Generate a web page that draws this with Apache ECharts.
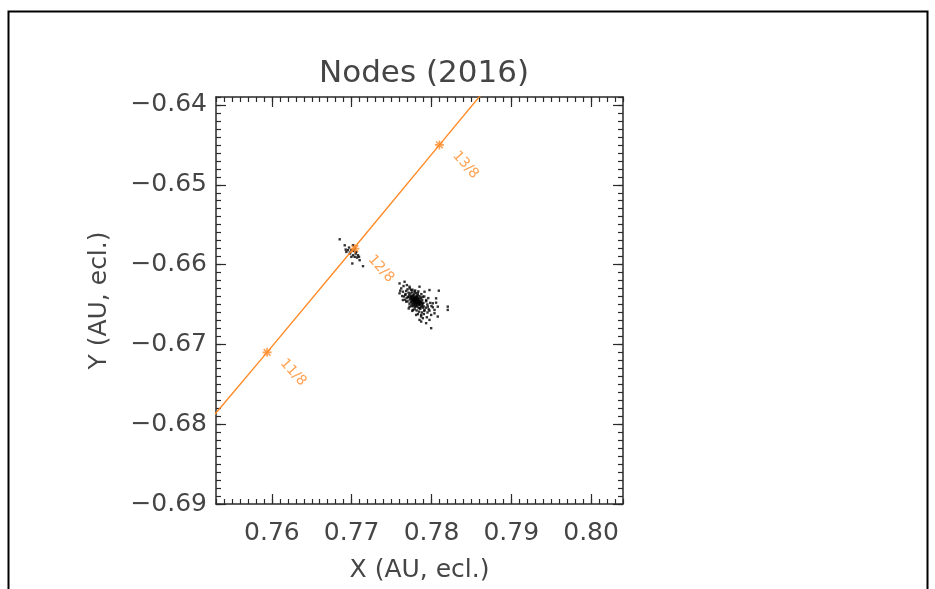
<!DOCTYPE html>
<html>
<head>
<meta charset="utf-8">
<script src="https://cdn.jsdelivr.net/npm/echarts@6/dist/echarts.min.js"></script>
<style>
html,body{margin:0;padding:0;background:#fff;}
#chart{width:935px;height:589px;}
</style>
</head>
<body>
<div id="chart"></div>
<script>
// ---- data ----
const xTickValues = [0.76, 0.77, 0.78, 0.79, 0.80];
const yTickValues = [-0.69, -0.68, -0.67, -0.66, -0.65, -0.64];

// orbit positions (X, Y) at successive days
const orbitDays = ['10/8', '11/8', '12/8', '13/8', '14/8'];
const orbitX = [0.7486, 0.7594, 0.7704, 0.7810, 0.7916];
const orbitY = [-0.6838, -0.6710, -0.6578, -0.6450, -0.6322];

// marked dates
const markDays = ['11/8', '12/8', '13/8'];
const markX = [0.7594, 0.7704, 0.7810];
const markY = [-0.6710, -0.6580, -0.6450];

// node cloud near the 12/8 point
const nodesSmall = [
  [0.76850,-0.65683],[0.76913,-0.65758],[0.77017,-0.65758],[0.76954,-0.65820],
  [0.76933,-0.65841],[0.76975,-0.65862],[0.76996,-0.65820],[0.77038,-0.65799],
  [0.77058,-0.65841],[0.77017,-0.65883],[0.77079,-0.65883],[0.77038,-0.65903],
  [0.77100,-0.65945],[0.77008,-0.65986],[0.77142,-0.66020],[0.76983,-0.65849],
  [0.77050,-0.65862],[0.77067,-0.65912],[0.77092,-0.65903],[0.76996,-0.65903],
  [0.76967,-0.65787],[0.77025,-0.65829],[0.76925,-0.65812]
];

// main node cloud
const nodesMain = [
  [0.77600,-0.66236],[0.77663,-0.66215],[0.77692,-0.66257],[0.77621,-0.66298],
  [0.77600,-0.66360],[0.77642,-0.66340],[0.77725,-0.66277],[0.77746,-0.66319],
  [0.77850,-0.66277],[0.77913,-0.66340],[0.77975,-0.66319],[0.78092,-0.66327],
  [0.78058,-0.66423],[0.78017,-0.66485],[0.78079,-0.66527],[0.78204,-0.66527],
  [0.78204,-0.66568],[0.78038,-0.66610],[0.78079,-0.66651],[0.77975,-0.66693],
  [0.77892,-0.66672],[0.77850,-0.66693],[0.77996,-0.66797],[0.77933,-0.66734],
  [0.77767,-0.66568],[0.77725,-0.66527],[0.77683,-0.66464],[0.77642,-0.66444],
  [0.77704,-0.66402],[0.77788,-0.66340],[0.77829,-0.66360],[0.77892,-0.66402],
  [0.77933,-0.66444],[0.77954,-0.66527],[0.77913,-0.66568],[0.77850,-0.66548],
  [0.77808,-0.66631],[0.77996,-0.66631],[0.78038,-0.66568],[0.77633,-0.66394],
  [0.77675,-0.66369],[0.77608,-0.66327],[0.77650,-0.66269],[0.77871,-0.66631],
  [0.77942,-0.66660],[0.78017,-0.66535],[0.77975,-0.66577],[0.77842,-0.66477],
  [0.77871,-0.66714],[0.78058,-0.66477],
  [0.77712,-0.66352],[0.77735,-0.66361],[0.77758,-0.66348],[0.77781,-0.66372],
  [0.77804,-0.66358],[0.77826,-0.66383],[0.77849,-0.66395],[0.77871,-0.66412],
  [0.77722,-0.66381],[0.77745,-0.66392],[0.77768,-0.66386],[0.77792,-0.66401],
  [0.77815,-0.66394],[0.77838,-0.66418],[0.77861,-0.66427],[0.77884,-0.66441],
  [0.77716,-0.66408],[0.77739,-0.66419],[0.77762,-0.66414],[0.77785,-0.66428],
  [0.77808,-0.66421],[0.77831,-0.66446],[0.77854,-0.66455],[0.77877,-0.66468],
  [0.77899,-0.66479],[0.77728,-0.66437],[0.77751,-0.66446],[0.77774,-0.66441],
  [0.77797,-0.66455],[0.77820,-0.66449],[0.77843,-0.66472],[0.77866,-0.66483],
  [0.77889,-0.66496],[0.77741,-0.66466],[0.77764,-0.66474],[0.77787,-0.66469],
  [0.77810,-0.66482],[0.77833,-0.66476],[0.77856,-0.66500],[0.77879,-0.66511],
  [0.77902,-0.66523],[0.77755,-0.66494],[0.77778,-0.66503],[0.77801,-0.66497],
  [0.77824,-0.66511],[0.77847,-0.66505],[0.77870,-0.66528],[0.77893,-0.66540],
  [0.77769,-0.66522],[0.77792,-0.66531],[0.77815,-0.66526],[0.77838,-0.66539],
  [0.77861,-0.66553],[0.77776,-0.66425],[0.77799,-0.66437],[0.77812,-0.66461],
  [0.77789,-0.66448],[0.77766,-0.66456],[0.77834,-0.66432],[0.77825,-0.66488],
  [0.77802,-0.66511],[0.77846,-0.66459],[0.77757,-0.66430],[0.77780,-0.66487],
  [0.77817,-0.66409],[0.77794,-0.66416],[0.77771,-0.66399],[0.77748,-0.66405],
  [0.77839,-0.66491],[0.77862,-0.66470],[0.77816,-0.66435],[0.77783,-0.66462],
  [0.77807,-0.66473],
  [0.77683,-0.66330],[0.77700,-0.66310],[0.77729,-0.66298],[0.77762,-0.66315],
  [0.77796,-0.66325],[0.77835,-0.66336],[0.77873,-0.66370],[0.77910,-0.66400],
  [0.77935,-0.66460],[0.77948,-0.66500],[0.77930,-0.66540],[0.77910,-0.66580],
  [0.77880,-0.66600],[0.77845,-0.66590],[0.77815,-0.66575],[0.77790,-0.66560],
  [0.77748,-0.66520],[0.77725,-0.66490],[0.77700,-0.66460],[0.77690,-0.66420],
  [0.77672,-0.66380],[0.77960,-0.66420],[0.77985,-0.66480],[0.78000,-0.66520],
  [0.77965,-0.66560],[0.77950,-0.66600],[0.77905,-0.66620],[0.77870,-0.66650],
  [0.77830,-0.66620],[0.77760,-0.66580],[0.77715,-0.66550],[0.77668,-0.66440],
  [0.77655,-0.66400]
];

// ---- styling ----
const FONT = 'DejaVu Sans';
const TXT = '#454545';
const AX = '#2a2a2a';
const ORANGE = '#ff8a26';
const X_MIN = 0.753, X_MAX = 0.804, Y_MIN = -0.690, Y_MAX = -0.639;
const GRID = {left: 216, top: 97, width: 407, height: 407};

const lineStyleAx = {color: AX, width: 1.5};
function majorX(pos, showLabel) {
  return {
    type: 'value', gridIndex: 0, position: pos, min: X_MIN, max: X_MAX,
    axisLine: {show: true, onZero: false, lineStyle: lineStyleAx},
    axisTick: {show: true, inside: true, length: 10, customValues: xTickValues, lineStyle: {color: AX, width: 1.2}},
    axisLabel: showLabel ? {show: true, customValues: xTickValues, formatter: v => v.toFixed(2),
      fontFamily: FONT, fontSize: 25, color: TXT, margin: 17} : {show: false},
    splitLine: {show: false}
  };
}
function minorX(pos) {
  return {
    type: 'value', gridIndex: 1, position: pos, min: X_MIN, max: X_MAX, interval: 0.001,
    axisLine: {show: false, onZero: false},
    axisTick: {show: true, inside: true, length: 5, lineStyle: {color: AX, width: 1.2}},
    axisLabel: {show: false}, splitLine: {show: false}
  };
}
function majorY(pos, showLabel) {
  return {
    type: 'value', gridIndex: 0, position: pos, min: Y_MIN, max: Y_MAX,
    axisLine: {show: true, onZero: false, lineStyle: lineStyleAx},
    axisTick: {show: true, inside: true, length: 10, customValues: yTickValues, lineStyle: {color: AX, width: 1.2}},
    axisLabel: showLabel ? {show: true, customValues: yTickValues,
      formatter: v => (v < 0 ? '\u2212' : '') + Math.abs(v).toFixed(2),
      fontFamily: FONT, fontSize: 25, color: TXT, margin: 9} : {show: false},
    splitLine: {show: false}
  };
}
function minorY(pos) {
  return {
    type: 'value', gridIndex: 1, position: pos, min: Y_MIN, max: Y_MAX, interval: 0.001,
    axisLine: {show: false, onZero: false},
    axisTick: {show: true, inside: true, length: 5, lineStyle: {color: AX, width: 1.2}},
    axisLabel: {show: false}, splitLine: {show: false}
  };
}

const xBottom = majorX('bottom', true);
xBottom.name = 'X (AU, ecl.)';
xBottom.nameLocation = 'middle';
xBottom.nameGap = 54;
xBottom.nameTextStyle = {fontFamily: FONT, fontSize: 25, color: TXT};
const yLeft = majorY('left', true);
yLeft.name = 'Y (AU, ecl.)';
yLeft.nameLocation = 'middle';
yLeft.nameGap = 104;
yLeft.nameTextStyle = {fontFamily: FONT, fontSize: 25, color: TXT};

// label rotation and desired on-screen offset from the mark
const LABEL_ROT = -48;
const VIS_OFF = [26, 20];
const r = LABEL_ROT * Math.PI / 180;
const localOff = [
  VIS_OFF[0] * Math.cos(r) - VIS_OFF[1] * Math.sin(r),
  VIS_OFF[0] * Math.sin(r) + VIS_OFF[1] * Math.cos(r)
];

const starPath = 'path://M-0.7,-4L0.7,-4L0.7,4L-0.7,4Z M-4,-0.7L4,-0.7L4,0.7L-4,0.7Z M-2.5,-3.5L3.5,2.5L2.5,3.5L-3.5,-2.5Z M2.5,-3.5L3.5,-2.5L-2.5,3.5L-3.5,2.5Z';

const chart = echarts.init(document.getElementById('chart'), null, {renderer: 'canvas'});
chart.setOption({
  backgroundColor: '#fff',
  animation: false,
  title: {
    text: 'Nodes (2016)', left: 419, top: 53, textAlign: 'center',
    textStyle: {fontFamily: FONT, fontSize: 31, fontWeight: 'normal', color: TXT}
  },
  graphic: [{
    type: 'rect', left: 6, top: 9, silent: true,
    shape: {x: 0, y: 0, width: 919, height: 640},
    style: {fill: 'none', stroke: '#000', lineWidth: 2}
  }],
  grid: [Object.assign({}, GRID), Object.assign({}, GRID)],
  xAxis: [xBottom, majorX('top', false), minorX('bottom'), minorX('top')],
  yAxis: [yLeft, majorY('right', false), minorY('left'), minorY('right')],
  series: [
    {
      type: 'scatter', xAxisIndex: 0, yAxisIndex: 0, symbol: 'rect', symbolSize: 2.4,
      itemStyle: {color: '#000'}, data: nodesSmall.concat(nodesMain), z: 2
    },
    {
      type: 'line', xAxisIndex: 0, yAxisIndex: 0, showSymbol: false, symbol: 'none',
      lineStyle: {color: ORANGE, width: 1.4}, clip: true,
      data: orbitX.map((x, i) => [x, orbitY[i]]), z: 3
    },
    {
      type: 'scatter', xAxisIndex: 0, yAxisIndex: 0, symbol: starPath, symbolSize: 9,
      itemStyle: {color: ORANGE}, z: 4,
      data: markX.map((x, i) => ({name: markDays[i], value: [x, markY[i]]})),
      label: {
        show: true, position: 'inside', formatter: p => p.name,
        rotate: LABEL_ROT, offset: localOff,
        fontFamily: FONT, fontSize: 14, color: ORANGE
      }
    }
  ]
});
</script>
</body>
</html>
